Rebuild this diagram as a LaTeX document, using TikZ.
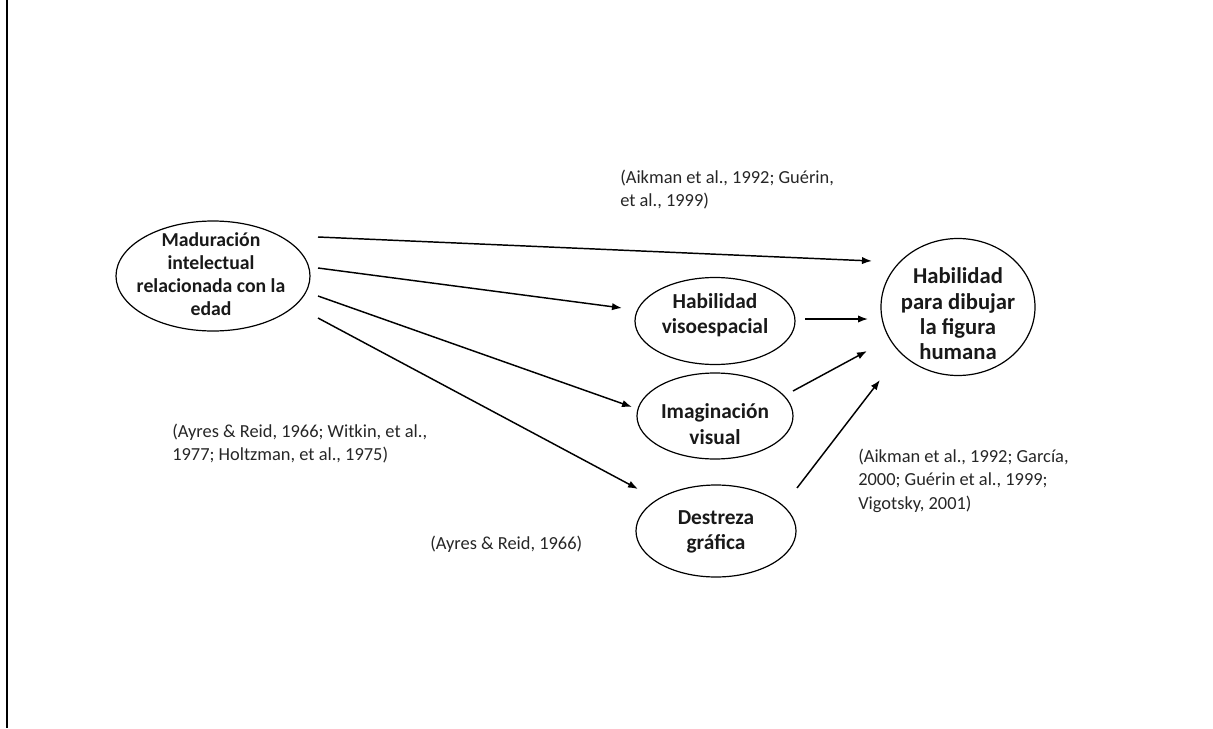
\documentclass[tikz,border=0pt]{standalone}
\usepackage{fontspec}
\setmainfont{Carlito}
\usetikzlibrary{shapes.geometric,arrows.meta}
\tikzset{
  ell/.style={draw, ellipse, line width=0.9pt, inner sep=0pt},
  lbl/.style={font=\bfseries\fontsize{16pt}{19.2pt}\selectfont, align=center, text=black!90},
  cite/.style={font=\fontsize{13.8pt}{17.4pt}\selectfont, align=left, anchor=north west, inner sep=0pt, text=black!85},
  arr/.style={line width=1.1pt, -{Latex[length=7.5pt,width=5.5pt]}}
}
\begin{document}
\begin{tikzpicture}[x=0.75pt,y=-0.75pt]
\useasboundingbox (0,0) rectangle (1213,728);
\draw[line width=1.6pt] (7,0) -- (7,728);
% ellipses
\node[ell, minimum width=145.5pt, minimum height=82.5pt] (mad) at (213,276) {};
\node[lbl, font=\bfseries\fontsize{14.8pt}{17.2pt}\selectfont] (madt) at (211,274) {Maduración\\intelectual\\relacionada con la\\edad};
\node[ell, minimum width=120pt, minimum height=65.25pt] (vis) at (715,321) {};
\node[lbl] (vist) at (715,315) {Habilidad\\visoespacial};
\node[ell, minimum width=117pt, minimum height=64.5pt] (ima) at (715,416) {};
\node[lbl] (imat) at (715,424) {Imaginación\\visual};
\node[ell, minimum width=120pt, minimum height=69pt] (des) at (716,531) {};
\node[lbl] (dest) at (716,532) {Destreza\\gráfica};
\node[ell, minimum width=115.5pt, minimum height=102.75pt] (hab) at (958,307) {};
\node[lbl, font=\bfseries\fontsize{17pt}{19pt}\selectfont] (habt) at (958,314) {Habilidad\\para dibujar\\la figura\\humana};
% citations
\node[cite] (c1) at (620,170) {(Aikman et al., 1992; Guérin,\\et al., 1999)};
\node[cite] (c2) at (172,424) {(Ayres \& Reid, 1966; Witkin, et al.,\\1977; Holtzman, et al., 1975)};
\node[cite] (c3) at (858,449) {(Aikman et al., 1992; García,\\2000; Guérin et al., 1999;\\Vigotsky, 2001)};
\node[cite] (c4) at (430,536) {(Ayres \& Reid, 1966)};
% connector endpoints
\coordinate (m1) at (318,237);
\coordinate (m2) at (318,268);
\coordinate (m3) at (318,296);
\coordinate (m4) at (318,318);
\coordinate (h1) at (872,261);
\coordinate (v1) at (622,308);
\coordinate (i1) at (632,407);
\coordinate (d1) at (638,489);
\coordinate (vo) at (805,319);
\coordinate (h2) at (868,319);
\coordinate (io) at (793,391);
\coordinate (h3) at (867,351);
\coordinate (do) at (797,488);
\coordinate (h4) at (880,380);
\draw[arr] (m1) -- (h1);
\draw[arr] (m2) -- (v1);
\draw[arr] (m3) -- (i1);
\draw[arr] (m4) -- (d1);
\draw[arr] (vo) -- (h2);
\draw[arr] (io) -- (h3);
\draw[arr] (do) -- (h4);
\end{tikzpicture}
\end{document}
